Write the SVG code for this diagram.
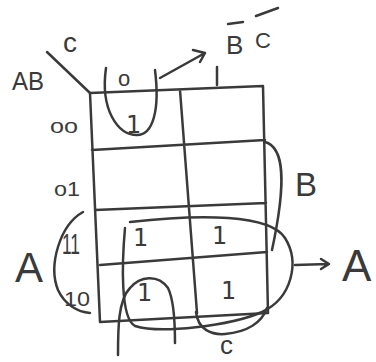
<svg xmlns="http://www.w3.org/2000/svg" width="376" height="362" viewBox="0 0 376 362">
<style>
.s{fill:none;stroke:#3a3a3a;stroke-width:2.5;stroke-linecap:round;stroke-linejoin:round}
.t{fill:#3a3a3a;font-family:"Liberation Sans",Arial,sans-serif}
.o{fill:#3a3a3a;font-family:"DejaVu Sans",sans-serif;font-size:24px}
</style>
<rect width="376" height="362" fill="#fff"/>
<g id="grid">
<path class="s" d="M90,93 L263,86 M90,93 L100,322 M263,86 L268,313 M100,322 L268,313 M180,90 L197,313 M92,150 L265,140 M95,210 L266,203 M100,265 L267,252"/>
<path class="s" d="M47,52 L90,93"/>
<path class="s" d="M217,67 L217,85"/>
</g>
<g id="labels">
<text class="t" x="63" y="52" font-size="28">c</text>
<text class="t" x="12" y="90" font-size="26" textLength="32" lengthAdjust="spacingAndGlyphs">AB</text>
<text class="t" x="118" y="86" font-size="22">o</text>
<text class="t" x="50" y="133" font-size="20" textLength="28" lengthAdjust="spacingAndGlyphs">oo</text>
<text class="t" x="54" y="196" font-size="20" textLength="26" lengthAdjust="spacingAndGlyphs">o1</text>
<text class="t" x="62" y="254" font-size="30" textLength="18" lengthAdjust="spacingAndGlyphs">11</text>
<text class="t" x="64" y="306" font-size="21" textLength="26" lengthAdjust="spacingAndGlyphs">10</text>
<text class="t" x="15" y="282" font-size="42">A</text>
<text class="t" x="342" y="281" font-size="44">A</text>
<text class="t" x="295" y="196" font-size="33">B</text>
<text class="t" x="226" y="54" font-size="26">B</text>
<text class="t" x="255" y="48" font-size="22">C</text>
<text class="t" x="220" y="354" font-size="26">c</text>
<text class="o" x="126" y="133">1</text>
<text class="o" x="133" y="246">1</text>
<text class="o" x="212" y="244">1</text>
<text class="o" x="137" y="301">1</text>
<text class="o" x="221" y="299">1</text>
</g>
<g id="bars">
<path class="s" d="M228,24 L243,22 M256,16 L278,8"/>
</g>
<g id="connectors">
<path class="s" d="M106,68 C100,110 118,135 137,135 C153,135 160,110 155,70"/>
<path class="s" d="M160,78 L205,53 M193,50 L205,53 L200,62"/>
<path class="s" d="M265,142 C284,147 287,180 272,250"/>
<path class="s" d="M83,212 C60,225 48,265 58,290 C65,305 78,312 90,313"/>
<path class="s" d="M130,222 C200,214 270,214 285,238 C300,262 292,298 262,312 C230,326 160,334 135,326 C120,318 122,262 125,228"/>
<path class="s" d="M118,355 C118,330 118,300 130,288 C140,276 158,274 168,288 C174,300 175,325 175,343"/>
<path class="s" d="M196,312 C198,330 212,335 225,334 C248,332 262,322 267,308"/>
<path class="s" d="M295,265 L328,264 M321,259 L329,264 L321,269"/>
</g>
</svg>
